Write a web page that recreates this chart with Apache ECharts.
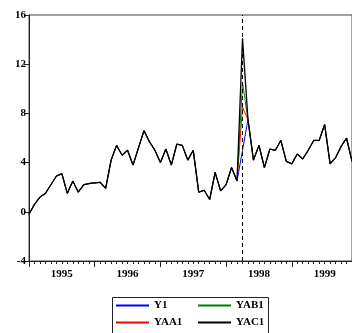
<!DOCTYPE html>
<html>
<head>
<meta charset="utf-8">
<script src="https://cdn.jsdelivr.net/npm/echarts@6/dist/echarts.min.js"></script>
<style>
html,body{margin:0;padding:0;background:#fff;}
#chart{width:352px;height:333px;}
</style>
</head>
<body>
<div id="chart"></div>
<script>
// Monthly observations 1995M01 .. 1999M12
var years = ['1995', '1996', '1997', '1998', '1999'];
var monthCodes = ['01','02','03','04','05','06','07','08','09','10','11','12'];
var categories = [];
years.forEach(function (y) { monthCodes.forEach(function (m) { categories.push(y + 'M' + m); }); });

var yTicks = [-4, 0, 4, 8, 12, 16];
var breakDate = '1998M04';

var y1 = [-0.2, 0.6, 1.2, 1.5, 2.2, 2.9, 3.1, 1.5, 2.5, 1.6, 2.2, 2.3,
          2.35, 2.4, 1.9, 4.2, 5.4, 4.6, 5.0, 3.8, 5.2, 6.6, 5.7, 5.0,
          4.0, 5.1, 3.8, 5.5, 5.4, 4.2, 5.0, 1.6, 1.75, 1.0, 3.2, 1.7,
          2.2, 3.6, 2.5, 5.0, 7.5, 4.2, 5.4, 3.6, 5.1, 5.0, 5.8, 4.1,
          3.9, 4.7, 4.3, 5.0, 5.8, 5.8, 7.1, 3.9, 4.4, 5.3, 6.0, 4.1];
var yaa1 = [-0.2, 0.6, 1.2, 1.5, 2.2, 2.9, 3.1, 1.5, 2.5, 1.6, 2.2, 2.3,
          2.35, 2.4, 1.9, 4.2, 5.4, 4.6, 5.0, 3.8, 5.2, 6.6, 5.7, 5.0,
          4.0, 5.1, 3.8, 5.5, 5.4, 4.2, 5.0, 1.6, 1.75, 1.0, 3.2, 1.7,
          2.2, 3.6, 2.5, 8.5, 7.5, 4.2, 5.4, 3.6, 5.1, 5.0, 5.8, 4.1,
          3.9, 4.7, 4.3, 5.0, 5.8, 5.8, 7.1, 3.9, 4.4, 5.3, 6.0, 4.1];
var yab1 = [-0.2, 0.6, 1.2, 1.5, 2.2, 2.9, 3.1, 1.5, 2.5, 1.6, 2.2, 2.3,
          2.35, 2.4, 1.9, 4.2, 5.4, 4.6, 5.0, 3.8, 5.2, 6.6, 5.7, 5.0,
          4.0, 5.1, 3.8, 5.5, 5.4, 4.2, 5.0, 1.6, 1.75, 1.0, 3.2, 1.7,
          2.2, 3.6, 2.5, 10.5, 7.5, 4.2, 5.4, 3.6, 5.1, 5.0, 5.8, 4.1,
          3.9, 4.7, 4.3, 5.0, 5.8, 5.8, 7.1, 3.9, 4.4, 5.3, 6.0, 4.1];
var yac1 = [-0.2, 0.6, 1.2, 1.5, 2.2, 2.9, 3.1, 1.5, 2.5, 1.6, 2.2, 2.3,
          2.35, 2.4, 1.9, 4.2, 5.4, 4.6, 5.0, 3.8, 5.2, 6.6, 5.7, 5.0,
          4.0, 5.1, 3.8, 5.5, 5.4, 4.2, 5.0, 1.6, 1.75, 1.0, 3.2, 1.7,
          2.2, 3.6, 2.5, 14.1, 7.5, 4.2, 5.4, 3.6, 5.1, 5.0, 5.8, 4.1,
          3.9, 4.7, 4.3, 5.0, 5.8, 5.8, 7.1, 3.9, 4.4, 5.3, 6.0, 4.1];

var FONT = 'Liberation Serif';
var chart = echarts.init(document.getElementById('chart'), null, {renderer: 'canvas'});

function lineSeries(name, data, color, width, extra) {
  var s = {
    name: name, type: 'line', data: data, xAxisIndex: 0, yAxisIndex: 0,
    showSymbol: false, symbol: 'none', animation: false,
    lineStyle: {color: color, width: width}, itemStyle: {color: color}
  };
  if (extra) { for (var k in extra) s[k] = extra[k]; }
  return s;
}

var legendText = {fontFamily: FONT, fontWeight: 'bold', fontSize: 11, color: '#000'};

chart.setOption({
  animation: false,
  backgroundColor: '#fff',
  grid: {left: 29, top: 15, width: 326, height: 246, show: true,
         borderColor: '#444', borderWidth: 1, backgroundColor: 'transparent'},
  xAxis: [{
    type: 'category', data: categories, boundaryGap: false, position: 'bottom',
    axisLine: {show: true, onZero: false, lineStyle: {color: '#222', width: 1}},
    axisTick: {show: true, interval: 0, length: 3, lineStyle: {color: '#222'}},
    axisLabel: {
      interval: function (idx) { return idx % 12 === 6; },
      formatter: function (v) { return v.slice(0, 4); },
      fontFamily: FONT, fontWeight: 'bold', fontSize: 11, color: '#000', margin: 8
    },
    splitLine: {show: false}
  }, {
    type: 'category', data: categories, boundaryGap: false, position: 'bottom',
    axisLine: {show: false, onZero: false},
    axisTick: {show: true, interval: function (idx) { return idx % 12 === 0; }, length: 6, lineStyle: {color: '#222'}},
    axisLabel: {show: false},
    splitLine: {show: false}
  }],
  yAxis: {
    type: 'value', min: yTicks[0], max: yTicks[yTicks.length - 1], interval: 4,
    axisLine: {show: true, onZero: false, lineStyle: {color: '#222', width: 1}},
    axisTick: {show: true, length: 5, lineStyle: {color: '#222'}},
    axisLabel: {fontFamily: FONT, fontWeight: 'bold', fontSize: 11, color: '#000', margin: 3},
    splitLine: {show: false}
  },
  legend: [{
    data: ['Y1', 'YAA1'], orient: 'vertical', left: 116, top: 300,
    itemWidth: 33, itemHeight: 2, itemGap: 6, icon: 'rect',
    textStyle: legendText, selectedMode: false, padding: 0
  }, {
    data: ['YAB1', 'YAC1'], orient: 'vertical', left: 198, top: 300,
    itemWidth: 33, itemHeight: 2, itemGap: 6, icon: 'rect',
    textStyle: legendText, selectedMode: false, padding: 0
  }],
  graphic: [{
    type: 'rect', left: 110, top: 295, silent: true,
    shape: {width: 156, height: 36},
    style: {fill: 'none', stroke: '#222', lineWidth: 1}
  }],
  series: [
    lineSeries('Y1', y1, '#0000ff', 1),
    lineSeries('YAA1', yaa1, '#ff0000', 1),
    lineSeries('YAB1', yab1, '#008000', 1),
    lineSeries('YAC1', yac1, '#000000', 1.3, {
      markLine: {
        silent: true, symbol: 'none', animation: false,
        label: {show: false},
        lineStyle: {color: '#000', width: 1, type: [4, 3]},
        data: [{xAxis: breakDate}]
      }
    })
  ]
});
</script>
</body>
</html>
